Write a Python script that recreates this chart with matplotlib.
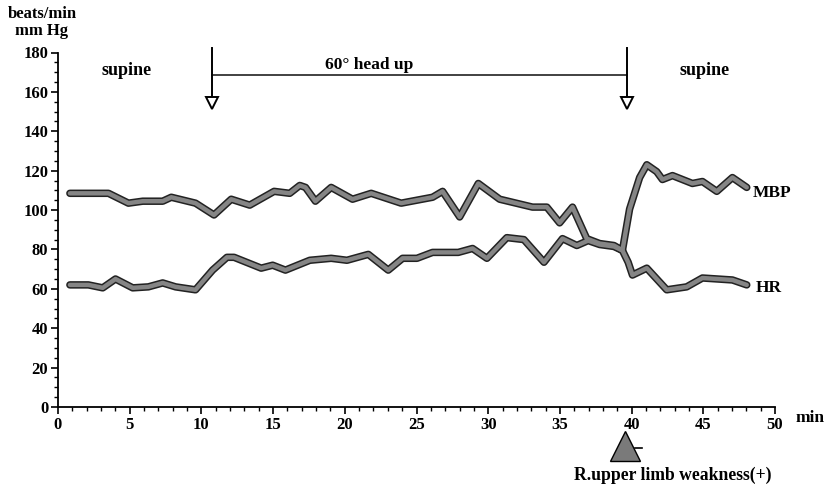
import matplotlib
matplotlib.use("Agg")
import matplotlib.pyplot as plt
from matplotlib.ticker import MultipleLocator

# ---- data ----
mbp_t = [0.83, 2.42, 3.52, 4.91, 5.91, 7.3, 7.9, 9.59, 10.88, 12.08, 13.37, 15.07,
         16.16, 16.86, 17.26, 17.95, 19.05, 20.54, 21.84, 23.93, 26.12, 26.82,
         28.01, 29.31, 30.8, 33.09, 34.09, 34.98, 35.88, 36.87, 37.77, 38.77,
         39.36, 39.86, 40.56, 41.06, 41.75, 42.15, 42.85, 44.24, 44.94, 45.94,
         47.03, 48.03]
mbp_v = [108.5, 108.5, 108.5, 103.5, 104.5, 104.5, 106.5, 103.5, 97.5, 105.5,
         102.5, 109.5, 108.5, 112.5, 111.5, 104.5, 111.5, 105.5, 108.5, 103.5,
         106.5, 109.5, 96.5, 113.5, 105.5, 101.5, 101.5, 93.5, 101.5, 85.5,
         83, 82, 79.5, 100.5, 116.5, 123, 119.5, 115.5, 117.5, 113.5, 114.5,
         109.5, 116.5, 111.5]

hr_t = [0.83, 2.12, 3.12, 4.01, 5.21, 6.3, 7.3, 8.2, 9.59, 10.78, 11.78, 12.28,
        14.17, 14.97, 15.86, 17.56, 19.05, 20.15, 21.64, 23.03, 24.03, 25.03,
        26.12, 27.91, 28.91, 29.91, 31.3, 32.49, 33.89, 35.18, 36.18, 36.97,
        37.77, 38.77, 39.36, 39.76, 40.06, 41.06, 42.45, 43.84, 44.94, 47.03,
        48.03]
hr_v = [62, 62, 60.5, 65, 60.5, 61, 63, 61, 59.5, 69.5, 76, 76, 70.5, 72,
        69.5, 74.5, 75.5, 74.5, 77.5, 69.5, 75.5, 75.5, 78.5, 78.5, 80.5, 75.5,
        86, 85, 73.5, 85.5, 82, 84.5, 82.5, 81.5, 79.5, 73.5, 67, 70.5,
        59.5, 61, 65.5, 64.5, 62]

head_up_start = 10.74
head_up_end = 39.68
event_time = 39.54

x_ticks = [0, 5, 10, 15, 20, 25, 30, 35, 40, 45, 50]
y_ticks = [0, 20, 40, 60, 80, 100, 120, 140, 160, 180]

# ---- figure ----
plt.rcParams['font.family'] = ['Liberation Serif', 'DejaVu Serif']
plt.rcParams['font.weight'] = 'bold'

fig = plt.figure(figsize=(8.24, 4.84), dpi=100)
ax = fig.add_axes([58 / 824, 77 / 484, 717 / 824, 354.5 / 484])

for t, v in ((mbp_t, mbp_v), (hr_t, hr_v)):
    ax.plot(t, v, color='#222222', lw=5.4, solid_capstyle='round',
            solid_joinstyle='round', zorder=3)
    ax.plot(t, v, color='#858585', lw=3.2, solid_capstyle='round',
            solid_joinstyle='round', zorder=4)

ax.set_xlim(0, 50)
ax.set_ylim(0, 180)
ax.set_xticks(x_ticks)
ax.set_yticks(y_ticks)
ax.xaxis.set_minor_locator(MultipleLocator(1))
ax.yaxis.set_minor_locator(MultipleLocator(5))
ax.tick_params(which='major', direction='out', length=5, width=1.2,
               labelsize=12, pad=2)
ax.tick_params(which='minor', direction='out', length=3, width=1.0)
for lab in ax.get_xticklabels() + ax.get_yticklabels():
    lab.set_fontweight('bold')
for s in ('top', 'right'):
    ax.spines[s].set_visible(False)
for s in ('left', 'bottom'):
    ax.spines[s].set_linewidth(1.3)

# head-up annotations
ax.plot([head_up_start, head_up_end], [168.6, 168.6], color='#333333', lw=1.3,
        clip_on=False)
for x in (head_up_start, head_up_end):
    ax.plot([x, x], [182.3, 155], color='black', lw=1.4, clip_on=False)
    ax.plot([x], [154.4], marker='v', ms=8, mfc='white', mec='black', mew=1.4,
            clip_on=False)
ax.text(21.7, 169.6, '60° head up', ha='center', va='bottom', fontsize=12.5,
        fontweight='bold')
ax.text(4.8, 171, 'supine', ha='center', va='center', fontsize=13,
        fontweight='bold')
ax.text(45.1, 171, 'supine', ha='center', va='center', fontsize=13,
        fontweight='bold')

# series labels
ax.text(48.47, 108.7, 'MBP', ha='left', va='center', fontsize=12.5,
        fontweight='bold', clip_on=False)
ax.text(48.67, 60.4, 'HR', ha='left', va='center', fontsize=12.5,
        fontweight='bold', clip_on=False)
ax.text(51.4, -5.6, 'min', ha='left', va='center', fontsize=12.5,
        fontweight='bold', clip_on=False)

# event marker
ax.plot([event_time], [-19.8], marker='^', ms=21.5, mfc='#7a7a7a', mec='black',
        mew=1.0, clip_on=False)
ax.plot([event_time + 0.7, event_time + 1.2], [-20.6, -20.6], color='black',
        lw=1.2, clip_on=False)
ax.text(42.9, -34.6, 'R.upper limb weakness(+)', ha='center',
        va='center', fontsize=12.7, fontweight='bold', clip_on=False)

fig.text(8 / 824, 1 - 13.5 / 484, 'beats/min', ha='left', va='center',
         fontsize=12, fontweight='bold')
fig.text(15 / 824, 1 - 31 / 484, 'mm Hg', ha='left', va='center',
         fontsize=12, fontweight='bold')

fig.savefig('out.png', dpi=100)
